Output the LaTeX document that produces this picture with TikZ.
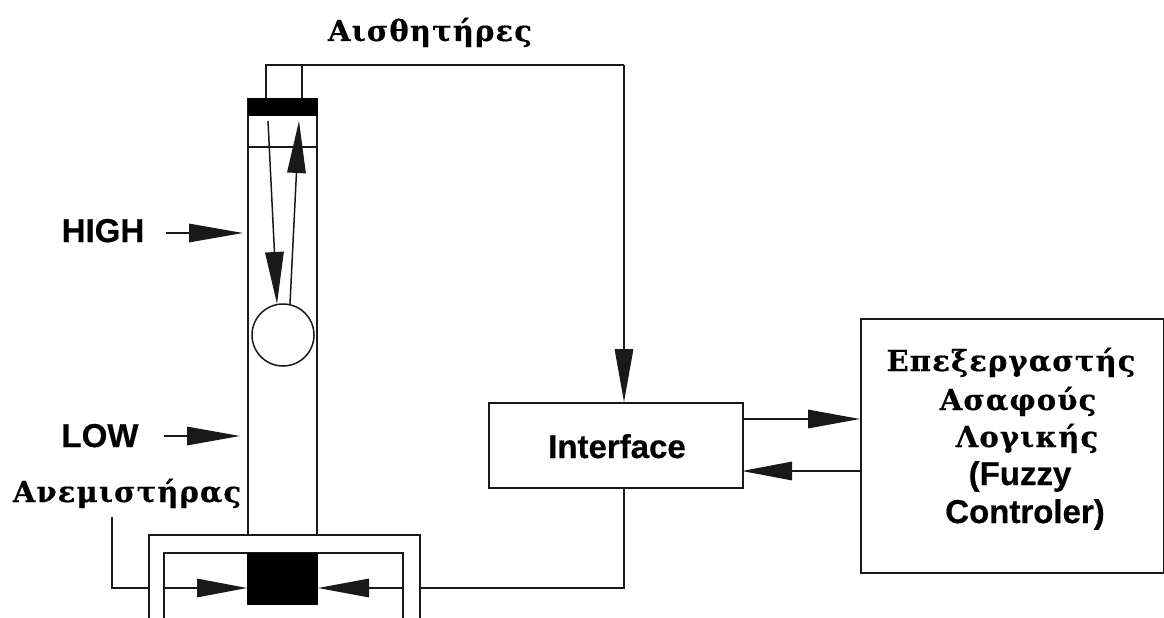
\documentclass[tikz,border=0pt]{standalone}
\usepackage{fontspec}
\setmainfont{Liberation Sans}[BoldFeatures={FakeBold=0.5}]
\newfontfamily\grk{DejaVu Serif}[LetterSpace=4,BoldFeatures={FakeBold=0.5}]
\usetikzlibrary{arrows.meta}
\tikzset{
  ln/.style={line width=1.5pt,draw=black!90,line join=miter},
  ah/.style={-{Triangle[length=#1,width=18.5pt]}},
  lat/.style={font=\fontsize{33}{36}\selectfont\bfseries,inner sep=0pt,anchor=base},
  gr/.style={font=\grk\fontsize{29}{32}\selectfont\bfseries,inner sep=0pt,anchor=base},
  boxnode/.style={ln,draw,inner sep=0pt,anchor=north west},
  solid block/.style={fill=black,draw=none,inner sep=0pt,anchor=north west},
}
\begin{document}
\begin{tikzpicture}[x=1pt,y=-1pt]
\useasboundingbox (0,0) rectangle (1164,618);
\fill[white] (0,0) rectangle (1164,618);
% column
\coordinate (tl) at (248,98); \coordinate (tr) at (317,98);
\coordinate (bl) at (248,535); \coordinate (br) at (317,535);
\draw[ln] (tl) -- (bl);
\draw[ln] (tr) -- (br);
\node[solid block,minimum width=70pt,minimum height=18pt] (bar) at (248,98) {};
\coordinate (m1) at (248,147); \coordinate (m2) at (317,147);
\draw[ln] (m1) -- (m2);
\node[ln,draw,circle,minimum size=62pt,inner sep=0pt] (ball) at (283,335) {};
% sensor rays
\coordinate (d1) at (268,121); \coordinate (d2) at (277,304);
\coordinate (u1) at (290,304); \coordinate (u2) at (299,121);
\draw[ln,ah=52pt] (d1) -- (d2);
\draw[ln,ah=52pt] (u1) -- (u2);
% boxes
\node[boxnode,minimum width=254pt,minimum height=85pt] (iface) at (488,402) {};
\node[boxnode,minimum width=303pt,minimum height=254pt] (ctrl) at (860,318) {};
% fan housing
\coordinate (o1) at (149,618); \coordinate (o2) at (149,535); \coordinate (o3) at (420,535); \coordinate (o4) at (420,618);
\coordinate (i1) at (164,618); \coordinate (i2) at (164,553); \coordinate (i3) at (403,553); \coordinate (i4) at (403,618);
\draw[ln] (o1) -- (o2) -- (o3) -- (o4);
\draw[ln] (i1) -- (i2) -- (i3) -- (i4);
\node[solid block,minimum width=71pt,minimum height=52pt] (fan) at (247,553) {};
\coordinate (fl) at (164,588); \coordinate (fr) at (403,588);
\coordinate (fanl) at (247,588); \coordinate (fanr) at (318,588);
\draw[ln,ah=50pt] (fl) -- (fanl);
\draw[ln,ah=51pt] (fr) -- (fanr);
% wires
\coordinate (s1) at (266,98); \coordinate (s1t) at (266,65);
\coordinate (s2) at (302,98); \coordinate (s2t) at (624,65);
\coordinate (s2m) at (302,65);
\coordinate (ifT) at (624,402); \coordinate (ifB) at (624,487);
\coordinate (cnr) at (624,588); \coordinate (oR) at (420,588);
\coordinate (oL) at (149,588); \coordinate (lcnr) at (112,588); \coordinate (ltop) at (112,517);
\draw[ln] (s1) -- (s1t) -- (s2t);
\draw[ln] (s2) -- (s2m);
\draw[ln,ah=53pt] (s2t) -- (ifT);
\draw[ln] (ifB) -- (cnr) -- (oR);
\draw[ln] (ltop) -- (lcnr) -- (oL);
% interface to controller
\coordinate (a1) at (742,419); \coordinate (a2) at (860,419);
\coordinate (b1) at (860,471); \coordinate (b2) at (742,471);
\draw[ln,ah=52pt] (a1) -- (a2);
\draw[ln,ah=50pt] (b1) -- (b2);
% HIGH / LOW
\coordinate (h1) at (166,233); \coordinate (h2) at (243,233);
\coordinate (l1) at (164,436); \coordinate (l2) at (240,436);
\draw[ln,ah=54pt] (h1) -- (h2);
\draw[ln,ah=53pt] (l1) -- (l2);
% labels
\node[gr] (tsens) at (430,41) {Αισθητήρες};
\node[lat] (thigh) at (103,242) {HIGH};
\node[lat] (tlow) at (100,447) {LOW};
\node[gr] (tfan) at (127,502) {Ανεμιστήρας};
\node[lat] (tif) at (617,458) {Interface};
\node[gr] (c1) at (1011,371) {Επεξεργαστής};
\node[gr] (c2) at (1018,410) {Ασαφούς};
\node[gr] (c3) at (1027,447) {Λογικής};
\node[lat] (c4) at (1020,485) {(Fuzzy};
\node[lat] (c5) at (1025,523) {Controler)};
\end{tikzpicture}
\end{document}
